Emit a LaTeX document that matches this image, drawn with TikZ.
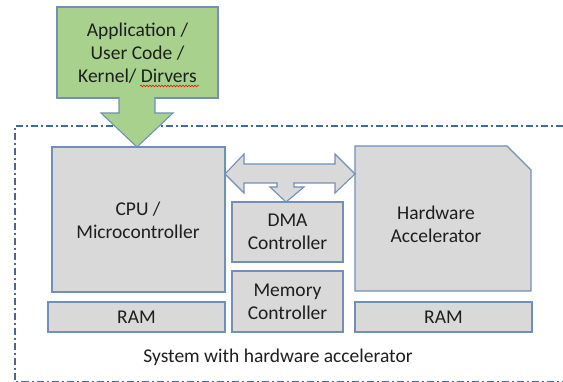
\documentclass[tikz,border=0pt]{standalone}
\usepackage{fontspec}
\setmainfont{Carlito}
\usetikzlibrary{decorations.pathmorphing}
\definecolor{boxfill}{HTML}{D9D9D9}
\definecolor{boxline}{HTML}{7090B8}
\definecolor{appfill}{HTML}{A9D18E}
\definecolor{sysline}{HTML}{3F6A9E}
\definecolor{txt}{HTML}{1E1E1E}
\begin{document}
\begin{tikzpicture}[x=1pt,y=-1pt,
  every node/.style={font=\fontsize{19.5}{23}\selectfont, text=txt, align=center, inner sep=0pt},
  block/.style={draw=boxline, line width=1.1pt, fill=boxfill},
  appblock/.style={draw=boxline, line width=1.1pt, fill=appfill},
  sysborder/.style={draw=sysline, line width=1.6pt, dash pattern=on 7pt off 3pt on 2pt off 3pt}]
\useasboundingbox (0,0) rectangle (563,382);

% system boundary
\draw[sysborder] (563,126) -- (15,126) -- (15,381.5) -- (563,381.5);

% software layer with its arrow into the CPU
\node[appblock, minimum width=161pt, minimum height=91pt] (app) at (137.5,52.5) {};
\path[appblock] (119,98) -- (119,113) -- (101,113) -- (137,147) -- (173,113) -- (155,113) -- (155,98);
\fill[appfill] (119.6,95) rectangle (154.4,99.4);
\node (apptext) at (137.5,53) {Application /\\User Code /\\Kernel/ Dirvers};
\draw[red, line width=0.5pt, decorate, decoration={snake, amplitude=0.9pt, segment length=3pt}] (140,86) -- (199,86);

% processor and its memory
\node[block, minimum width=173pt, minimum height=145pt] (cpu) at (138.5,219.5) {};
\node (cputext) at (138,220) {CPU /\\Microcontroller};
\node[block, minimum width=177pt, minimum height=30pt] (raml) at (136.5,317) {RAM};

% DMA and memory controller
\node[block, minimum width=111pt, minimum height=60pt] (dma) at (287.5,232) {DMA\\Controller};
\node[block, minimum width=111pt, minimum height=61pt] (mem) at (287.5,301.5) {Memory\\Controller};

% accelerator (snipped corner) and its memory
\draw[block] (355,146) -- (507,146) -- (531,170) -- (531,291) -- (355,291) -- cycle;
\node (hw) at (436,224) {Hardware\\Accelerator};
\node[block, minimum width=177pt, minimum height=30pt] (ramr) at (443.5,317) {RAM};

% shared bus: double arrow with a branch down to the DMA controller
\draw[block] (225,174) -- (244,154) -- (244,164) -- (335,164) -- (335,154) -- (355,174)
  -- (335,193) -- (335,183) -- (244,183) -- (244,193) -- cycle;
\path[block] (277,183) -- (277,187) -- (270,187) -- (286,202) -- (304,187) -- (294,187) -- (294,183);
\fill[boxfill] (277.6,181) rectangle (293.4,185);

% caption
\node (caption) at (278,357) {System with hardware accelerator};
\end{tikzpicture}
\end{document}
